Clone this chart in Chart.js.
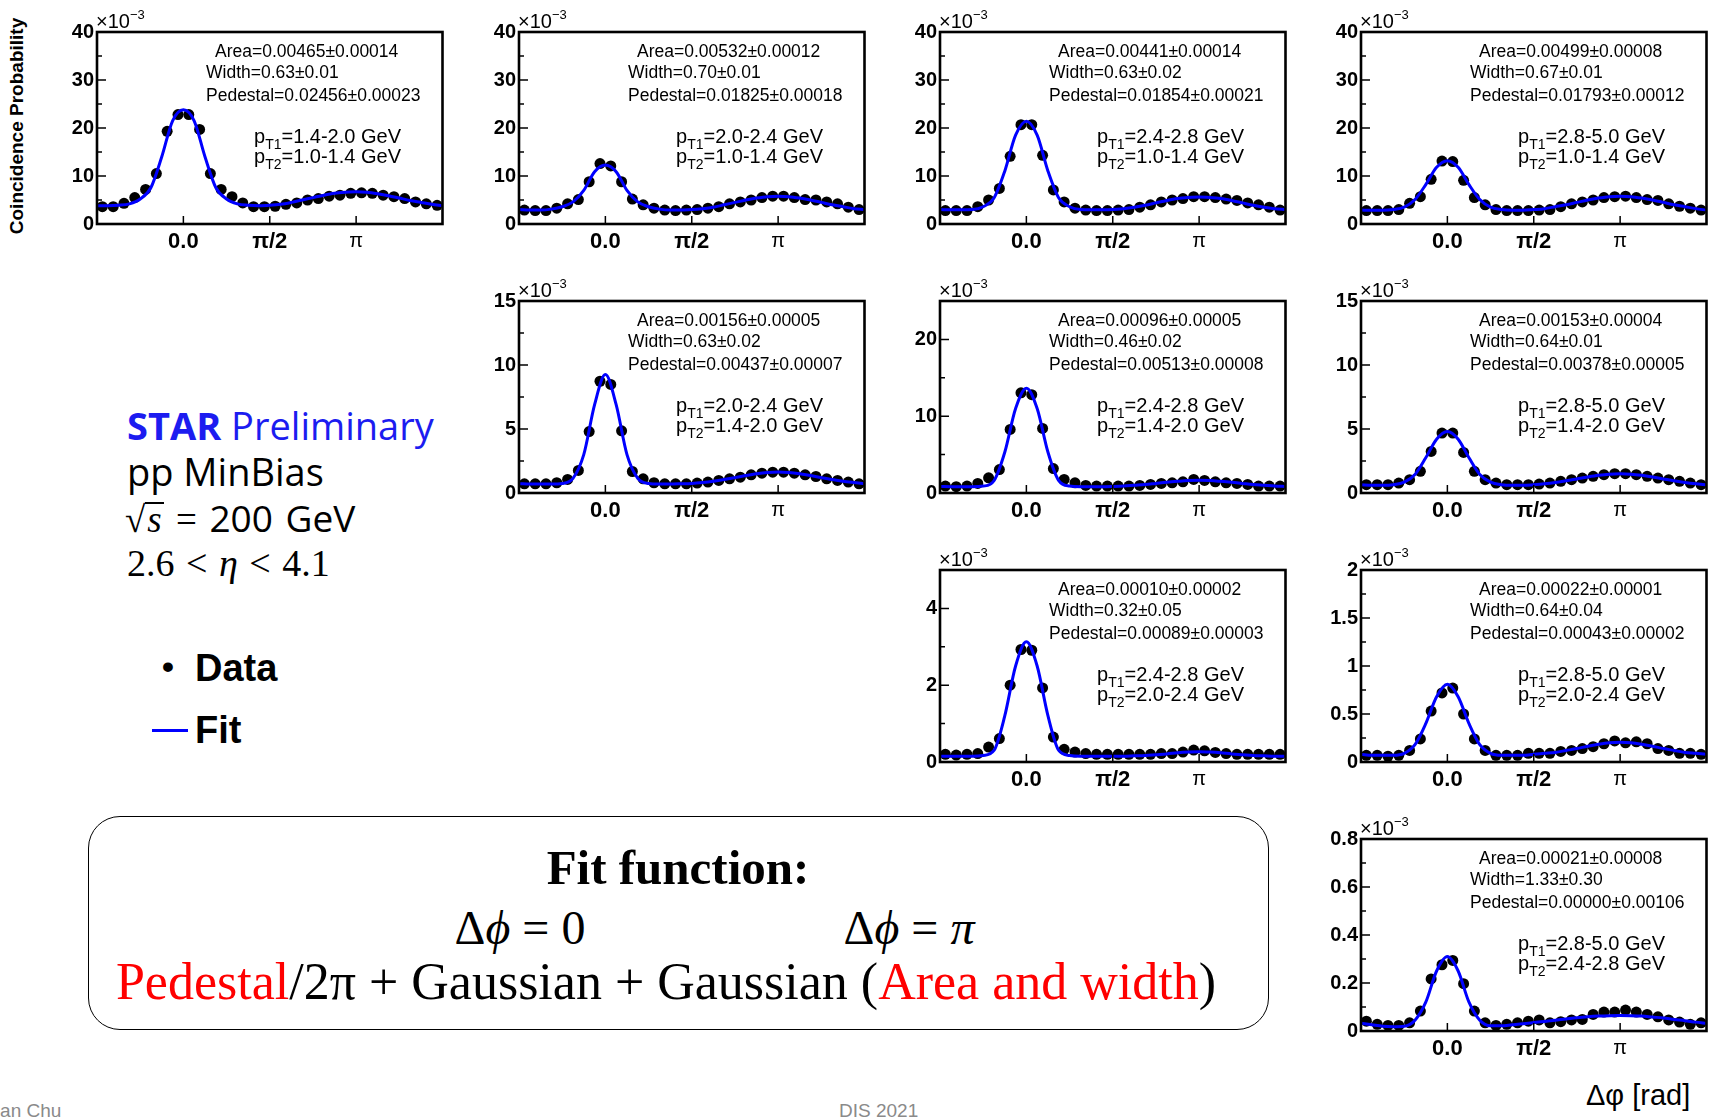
<!DOCTYPE html>
<html>
<head>
<meta charset="utf-8">
<script src="https://cdn.jsdelivr.net/npm/chart.js@4.4.1/dist/chart.umd.min.js"></script>
<style>
  body { margin: 0; background: #fff; }
  #page { position: relative; width: 1709px; height: 1117px; overflow: hidden; background: #fff; font-family: 'Liberation Sans', Arial, sans-serif; color: #000; }
  .abs { position: absolute; white-space: nowrap; }
  .panel { position: absolute; }
  .ann { font-size: 17.5px; line-height: 20px; }
  .pt { font-size: 20px; line-height: 22px; }
  .pt sub { font-size: 14px; line-height: 0; vertical-align: -6px; }
  .exp { font-size: 20px; line-height: 22px; }
  .exp sup { font-size: 13px; line-height: 0; vertical-align: 9px; }
  .serif { font-family: 'Liberation Serif', 'Times New Roman', serif; }
  .star { font-family: 'Open Sans', sans-serif; font-size: 38px; line-height: 44px; }
  .red { color: #ff0000; }
  .rad { font-style: italic; display: inline-block; line-height: 0.85em; border-top: 2px solid #000; padding: 0 2px; }
</style>
</head>
<body>
<div id="page"></div>
<script>
// ===== DATA =====
// bin centres in delta-phi (rad), 32 bins from -pi/2 to 3pi/2
var binPhi = [-1.473, -1.276, -1.080, -0.884, -0.687, -0.491, -0.295, -0.098, 0.098, 0.295, 0.491, 0.687, 0.884, 1.080, 1.276, 1.473,
  1.669, 1.865, 2.062, 2.258, 2.454, 2.651, 2.847, 3.043, 3.240, 3.436, 3.633, 3.829, 4.025, 4.222, 4.418, 4.614];
var fitPhi = [-1.571, -1.374, -1.178, -0.982, -0.785, -0.589, -0.393, -0.196, 0, 0.196, 0.393, 0.589, 0.785, 0.982, 1.178, 1.374,
  1.571, 1.767, 1.963, 2.160, 2.356, 2.553, 2.749, 2.945, 3.142, 3.338, 3.534, 3.731, 3.927, 4.123, 4.320, 4.516, 4.712];

var xRange = [-1.5708, 4.7124];
var xTickValues = [0, 1.5708, 3.1416];
var xTickLabels = ['0.0', 'π/2', 'π'];

var yTicks40 = [0, 10, 20, 30, 40];
var yTicks15 = [0, 5, 10, 15];
var yTicks25 = [0, 10, 20];
var yTicks5 = [0, 2, 4];
var yTicks2 = [0, 0.5, 1, 1.5, 2];
var yTicks08 = [0, 0.2, 0.4, 0.6, 0.8];

// values in units of 10^-3
var data1 = [3.6, 3.6, 4.3, 5.5, 7.2, 10.5, 19.3, 22.8, 22.8, 19.7, 10.5, 7.2, 5.7, 4.4, 3.6, 3.6, 3.7, 4.1, 4.4, 5.0, 5.3, 5.8, 6.0, 6.4, 6.5, 6.4, 6.0, 5.7, 5.3, 4.6, 4.2, 3.9];
var fit1 = [3.8, 3.8, 3.9, 4.2, 5.2, 7.6, 14.0, 21.5, 23.8, 21.5, 14.0, 7.6, 5.2, 4.2, 3.9, 3.8, 3.9, 4.1, 4.5, 5.0, 5.5, 6.0, 6.4, 6.6, 6.7, 6.6, 6.3, 5.9, 5.4, 4.9, 4.5, 4.1, 3.8];

var data2 = [2.9, 2.8, 2.8, 3.3, 4.2, 5.1, 8.8, 12.6, 12.1, 8.8, 5.2, 4.0, 3.3, 2.9, 2.8, 2.9, 3.0, 3.3, 3.6, 4.2, 4.6, 5.0, 5.5, 5.8, 5.8, 5.5, 5.1, 5.0, 4.6, 4.2, 3.5, 3.0];
var fit2 = [3.0, 2.9, 2.9, 3.1, 3.6, 4.6, 7.0, 10.9, 12.3, 10.9, 7.0, 4.6, 3.6, 3.1, 2.9, 2.9, 3.0, 3.2, 3.5, 4.0, 4.5, 5.0, 5.4, 5.7, 5.8, 5.7, 5.4, 5.0, 4.5, 4.0, 3.6, 3.2, 3.0];

var data3 = [2.8, 2.8, 2.8, 3.6, 5.0, 7.4, 14.1, 20.7, 20.7, 14.3, 7.1, 4.6, 3.3, 2.9, 2.8, 2.8, 2.9, 3.0, 3.5, 4.0, 4.6, 5.0, 5.3, 5.7, 5.7, 5.5, 5.2, 4.9, 4.4, 4.0, 3.5, 2.9];
var fit3 = [3.0, 2.95, 2.95, 3.0, 3.6, 5.4, 11.0, 18.5, 21.4, 18.5, 11.0, 5.4, 3.6, 3.0, 2.95, 2.95, 3.0, 3.2, 3.5, 3.9, 4.4, 4.9, 5.3, 5.5, 5.6, 5.5, 5.3, 4.9, 4.4, 3.9, 3.5, 3.2, 3.0];

var data4 = [2.8, 2.8, 2.8, 3.0, 4.3, 5.7, 9.3, 13.1, 13.0, 9.1, 5.5, 4.0, 3.0, 2.8, 2.8, 2.8, 2.9, 3.0, 3.6, 4.2, 4.6, 5.0, 5.5, 5.7, 5.8, 5.5, 5.1, 4.9, 4.2, 3.7, 3.3, 2.9];
var fit4 = [2.9, 2.85, 2.85, 3.0, 3.5, 5.1, 8.2, 11.8, 13.2, 11.8, 8.2, 5.1, 3.5, 3.0, 2.85, 2.85, 3.0, 3.2, 3.6, 4.0, 4.5, 5.0, 5.4, 5.7, 5.8, 5.7, 5.4, 5.0, 4.5, 4.0, 3.6, 3.2, 2.9];

var data5 = [0.72, 0.72, 0.72, 0.80, 1.06, 1.76, 4.8, 8.73, 8.48, 4.86, 1.68, 1.11, 0.80, 0.72, 0.72, 0.72, 0.78, 0.85, 0.98, 1.11, 1.24, 1.42, 1.55, 1.63, 1.63, 1.55, 1.42, 1.29, 1.11, 0.98, 0.85, 0.72];
var fit5 = [0.73, 0.7, 0.7, 0.7, 0.75, 1.15, 3.0, 6.9, 9.25, 6.9, 3.0, 1.15, 0.75, 0.7, 0.7, 0.72, 0.75, 0.82, 0.92, 1.05, 1.2, 1.36, 1.5, 1.6, 1.64, 1.6, 1.5, 1.36, 1.2, 1.05, 0.92, 0.82, 0.73];

var data6 = [0.9, 0.82, 0.9, 1.24, 1.97, 3.05, 8.28, 13.05, 12.8, 8.41, 3.18, 1.76, 1.33, 0.99, 0.9, 0.9, 0.9, 0.9, 0.99, 1.12, 1.24, 1.33, 1.46, 1.76, 1.63, 1.46, 1.33, 1.24, 1.12, 0.9, 0.9, 0.9];
var fit6 = [0.85, 0.82, 0.82, 0.82, 0.9, 1.6, 5.3, 11.0, 13.65, 11.0, 5.3, 1.6, 0.9, 0.82, 0.82, 0.82, 0.85, 0.9, 1.0, 1.1, 1.25, 1.4, 1.52, 1.62, 1.65, 1.62, 1.52, 1.4, 1.25, 1.1, 1.0, 0.9, 0.85];

var data7 = [0.65, 0.65, 0.65, 0.78, 1.04, 1.69, 3.25, 4.68, 4.68, 3.17, 1.69, 1.04, 0.78, 0.65, 0.65, 0.65, 0.70, 0.78, 0.91, 1.04, 1.17, 1.30, 1.43, 1.51, 1.51, 1.43, 1.30, 1.17, 1.04, 0.91, 0.78, 0.65];
var fit7 = [0.65, 0.6, 0.6, 0.65, 0.85, 1.45, 2.75, 4.2, 4.8, 4.2, 2.75, 1.45, 0.85, 0.65, 0.6, 0.6, 0.65, 0.72, 0.82, 0.95, 1.1, 1.25, 1.38, 1.47, 1.5, 1.47, 1.38, 1.25, 1.1, 0.95, 0.82, 0.72, 0.65];

var data8 = [0.20, 0.18, 0.20, 0.22, 0.39, 0.61, 2.0, 2.93, 2.91, 1.93, 0.65, 0.33, 0.26, 0.22, 0.20, 0.20, 0.20, 0.20, 0.20, 0.20, 0.22, 0.22, 0.26, 0.31, 0.29, 0.25, 0.22, 0.20, 0.20, 0.20, 0.20, 0.20];
var fit8 = [0.15, 0.15, 0.15, 0.15, 0.17, 0.3, 1.2, 2.5, 3.13, 2.5, 1.2, 0.3, 0.17, 0.15, 0.15, 0.15, 0.15, 0.15, 0.16, 0.17, 0.19, 0.21, 0.24, 0.26, 0.27, 0.26, 0.24, 0.21, 0.19, 0.17, 0.16, 0.15, 0.15];

var data9 = [0.07, 0.07, 0.06, 0.07, 0.12, 0.24, 0.53, 0.72, 0.77, 0.50, 0.24, 0.12, 0.07, 0.07, 0.07, 0.09, 0.09, 0.09, 0.11, 0.12, 0.14, 0.16, 0.19, 0.22, 0.20, 0.21, 0.19, 0.14, 0.12, 0.09, 0.09, 0.08];
var fit9 = [0.08, 0.07, 0.07, 0.07, 0.09, 0.18, 0.40, 0.68, 0.81, 0.68, 0.40, 0.18, 0.09, 0.07, 0.07, 0.07, 0.08, 0.09, 0.1, 0.12, 0.14, 0.165, 0.185, 0.2, 0.205, 0.2, 0.185, 0.165, 0.14, 0.12, 0.1, 0.09, 0.08];

var data10 = [0.041, 0.028, 0.023, 0.023, 0.034, 0.083, 0.217, 0.276, 0.294, 0.197, 0.083, 0.034, 0.023, 0.028, 0.034, 0.041, 0.046, 0.034, 0.039, 0.046, 0.048, 0.069, 0.079, 0.079, 0.087, 0.079, 0.069, 0.059, 0.046, 0.037, 0.028, 0.034];
var fit10 = [0.032, 0.026, 0.02, 0.018, 0.02, 0.045, 0.12, 0.25, 0.31, 0.25, 0.12, 0.045, 0.022, 0.022, 0.026, 0.03, 0.035, 0.04, 0.045, 0.05, 0.055, 0.059, 0.062, 0.064, 0.065, 0.064, 0.062, 0.058, 0.054, 0.048, 0.043, 0.037, 0.032];

// ===== LAYOUT =====
var colLeft = [97, 519, 940, 1361];
var rowTop = [31, 300, 569, 838];
var PLOT_W = 347, PLOT_H = 193;
var AXIS_W = 60, AXIS_H = 36, PAD_TOP = 14, PAD_RIGHT = 4;

var panels = [
  { row: 0, col: 0, data: data1, fit: fit1, yMax: 40, yTicks: yTicks40, area: '0.00465±0.00014', width: '0.63±0.01', ped: '0.02456±0.00023', pt1: '1.4-2.0', pt2: '1.0-1.4' },
  { row: 0, col: 1, data: data2, fit: fit2, yMax: 40, yTicks: yTicks40, area: '0.00532±0.00012', width: '0.70±0.01', ped: '0.01825±0.00018', pt1: '2.0-2.4', pt2: '1.0-1.4' },
  { row: 0, col: 2, data: data3, fit: fit3, yMax: 40, yTicks: yTicks40, area: '0.00441±0.00014', width: '0.63±0.02', ped: '0.01854±0.00021', pt1: '2.4-2.8', pt2: '1.0-1.4' },
  { row: 0, col: 3, data: data4, fit: fit4, yMax: 40, yTicks: yTicks40, area: '0.00499±0.00008', width: '0.67±0.01', ped: '0.01793±0.00012', pt1: '2.8-5.0', pt2: '1.0-1.4' },
  { row: 1, col: 1, data: data5, fit: fit5, yMax: 15, yTicks: yTicks15, area: '0.00156±0.00005', width: '0.63±0.02', ped: '0.00437±0.00007', pt1: '2.0-2.4', pt2: '1.4-2.0' },
  { row: 1, col: 2, data: data6, fit: fit6, yMax: 25, yTicks: yTicks25, area: '0.00096±0.00005', width: '0.46±0.02', ped: '0.00513±0.00008', pt1: '2.4-2.8', pt2: '1.4-2.0' },
  { row: 1, col: 3, data: data7, fit: fit7, yMax: 15, yTicks: yTicks15, area: '0.00153±0.00004', width: '0.64±0.01', ped: '0.00378±0.00005', pt1: '2.8-5.0', pt2: '1.4-2.0' },
  { row: 2, col: 2, data: data8, fit: fit8, yMax: 5, yTicks: yTicks5, area: '0.00010±0.00002', width: '0.32±0.05', ped: '0.00089±0.00003', pt1: '2.4-2.8', pt2: '2.0-2.4' },
  { row: 2, col: 3, data: data9, fit: fit9, yMax: 2, yTicks: yTicks2, area: '0.00022±0.00001', width: '0.64±0.04', ped: '0.00043±0.00002', pt1: '2.8-5.0', pt2: '2.0-2.4' },
  { row: 3, col: 3, data: data10, fit: fit10, yMax: 0.8, yTicks: yTicks08, area: '0.00021±0.00008', width: '1.33±0.30', ped: '0.00000±0.00106', pt1: '2.8-5.0', pt2: '2.4-2.8' }
];

var page = document.getElementById('page');

function addLabel(html, x, y, cls, extraStyle) {
  var el = document.createElement('div');
  el.className = 'abs ' + (cls || '');
  el.style.left = x + 'px';
  el.style.top = y + 'px';
  if (extraStyle) el.setAttribute('style', el.getAttribute('style') + ';' + extraStyle);
  el.innerHTML = html;
  page.appendChild(el);
  return el;
}

// frame box + inward ticks, ROOT style
var framePlugin = {
  id: 'rootFrame',
  afterDraw: function(chart) {
    var a = chart.chartArea, ctx = chart.ctx;
    var ys = chart.scales.y, xs = chart.scales.x;
    var majors = ys.ticks.map(function(t) { return t.value; });
    ctx.save();
    ctx.strokeStyle = '#000';
    ctx.lineWidth = 1.5;
    ctx.beginPath();
    majors.forEach(function(v, i) {
      var py = ys.getPixelForValue(v);
      ctx.moveTo(a.left, py); ctx.lineTo(a.left + 9, py);
      if (i > 0) {
        var pm = ys.getPixelForValue((v + majors[i - 1]) / 2);
        ctx.moveTo(a.left, pm); ctx.lineTo(a.left + 5, pm);
      }
    });
    xTickValues.forEach(function(v) {
      var px = xs.getPixelForValue(v);
      ctx.moveTo(px, a.bottom); ctx.lineTo(px, a.bottom - 8);
    });
    ctx.stroke();
    ctx.lineWidth = 2.6;
    ctx.strokeRect(a.left, a.top, a.right - a.left, a.bottom - a.top);
    ctx.restore();
  }
};

function makePanel(p) {
  var left = colLeft[p.col], top = rowTop[p.row];
  var box = document.createElement('div');
  box.className = 'panel';
  box.style.left = (left - AXIS_W) + 'px';
  box.style.top = (top - PAD_TOP) + 'px';
  var canvas = document.createElement('canvas');
  canvas.width = AXIS_W + PLOT_W + PAD_RIGHT;
  canvas.height = PAD_TOP + PLOT_H + AXIS_H;
  box.appendChild(canvas);
  page.appendChild(box);

  new Chart(canvas, {
    type: 'scatter',
    data: {
      datasets: [
        {
          label: 'Fit',
          data: fitPhi.map(function(x, i) { return { x: x, y: p.fit[i] }; }),
          showLine: true,
          borderColor: '#0000ff',
          borderWidth: 3,
          pointRadius: 0,
          cubicInterpolationMode: 'monotone',
          order: 0
        },
        {
          label: 'Data',
          data: binPhi.map(function(x, i) { return { x: x, y: p.data[i] }; }),
          pointRadius: 5.5,
          backgroundColor: '#000',
          borderColor: '#000',
          borderWidth: 0,
          order: 1
        }
      ]
    },
    options: {
      responsive: false,
      animation: false,
      events: [],
      layout: { padding: { top: PAD_TOP, right: PAD_RIGHT, left: 0, bottom: 0 } },
      plugins: { legend: { display: false }, tooltip: { enabled: false } },
      scales: {
        x: {
          type: 'linear',
          min: xRange[0],
          max: xRange[1],
          grid: { display: false, drawTicks: false },
          border: { display: false },
          afterBuildTicks: function(s) { s.ticks = xTickValues.map(function(v) { return { value: v }; }); },
          afterFit: function(s) { s.height = AXIS_H; },
          ticks: {
            padding: 5,
            color: '#000',
            maxRotation: 0,
            autoSkip: false,
            callback: function(v, i) { return xTickLabels[i]; },
            font: function(ctx) {
              return { family: "'Liberation Sans', Arial, sans-serif", size: ctx.index === 2 ? 20 : 22, weight: ctx.index === 2 ? 'normal' : 'bold' };
            }
          }
        },
        y: {
          min: 0,
          max: p.yMax,
          grid: { display: false, drawTicks: false },
          border: { display: false },
          afterBuildTicks: function(s) { s.ticks = p.yTicks.map(function(v) { return { value: v }; }); },
          afterFit: function(s) { s.width = AXIS_W; },
          ticks: {
            padding: 3,
            color: '#000',
            callback: function(v) { return String(v); },
            font: { family: "'Liberation Sans', Arial, sans-serif", size: 20, weight: 'bold' }
          }
        }
      }
    },
    plugins: [framePlugin]
  });

  // texts of the panel
  addLabel('×10<sup>−3</sup>', left - 1, top - 21, 'exp');
  addLabel('Area=' + p.area, left + 118, top + 10, 'ann');
  addLabel('Width=' + p.width, left + 109, top + 31, 'ann');
  addLabel('Pedestal=' + p.ped, left + 109, top + 54, 'ann');
  addLabel('p<sub>T1</sub>=' + p.pt1 + ' GeV', left + 157, top + 94, 'pt');
  addLabel('p<sub>T2</sub>=' + p.pt2 + ' GeV', left + 157, top + 114, 'pt');
}

panels.forEach(makePanel);

// ===== OTHER PAGE TEXT =====
addLabel('Coincidence Probability', 17, 126, '', 'font-size:19px;font-weight:bold;line-height:22px;transform:translate(-50%,-50%) rotate(-90deg);');

addLabel('<b>STAR</b> Preliminary', 127, 403, 'star', 'color:#1c1cf0;');
addLabel('pp MinBias', 127, 449, 'star');
addLabel('<span class="serif">√<span class="rad">s</span> =</span> 200 GeV', 125, 496, 'star', 'font-size:37px;word-spacing:3px;');
addLabel('2.6 &lt; <i>η</i> &lt; 4.1', 127, 541, 'serif', 'font-size:38px;line-height:44px;word-spacing:2px;');

addLabel('•', 162, 644, '', 'font-size:34px;font-weight:bold;line-height:44px;');
addLabel('Data', 195, 646, '', 'font-size:38px;font-weight:bold;line-height:44px;');
addLabel('', 152, 729, '', 'width:36px;height:0;border-top:3px solid #0000ff;');
addLabel('Fit', 195, 708, '', 'font-size:38px;font-weight:bold;line-height:44px;');

// fit function box
addLabel('', 88, 816, '', 'width:1179px;height:212px;border:1.5px solid #000;border-radius:32px;');
addLabel('Fit function:', 678, 867, 'serif', 'font-size:49px;font-weight:bold;transform:translate(-50%,-50%);');
addLabel('Δ<i>ϕ</i> = 0', 520, 927, 'serif', 'font-size:48px;transform:translate(-50%,-50%);');
addLabel('Δ<i>ϕ</i> = <i>π</i>', 909, 927, 'serif', 'font-size:48px;transform:translate(-50%,-50%);');
addLabel('<span class="red">Pedestal</span>/2π + Gaussian + Gaussian (<span class="red">Area and width</span>)', 666, 981, 'serif', 'font-size:52px;transform:translate(-50%,-50%);');

addLabel('Δφ [rad]', 1586, 1078, '', 'font-size:29px;line-height:34px;');
addLabel('DIS 2021', 839, 1100, '', 'font-size:19px;color:#8a8a8a;line-height:22px;');
addLabel('Xiaoxuan Chu', -58, 1100, '', 'font-size:19px;color:#8a8a8a;line-height:22px;');
</script>
</body>
</html>
